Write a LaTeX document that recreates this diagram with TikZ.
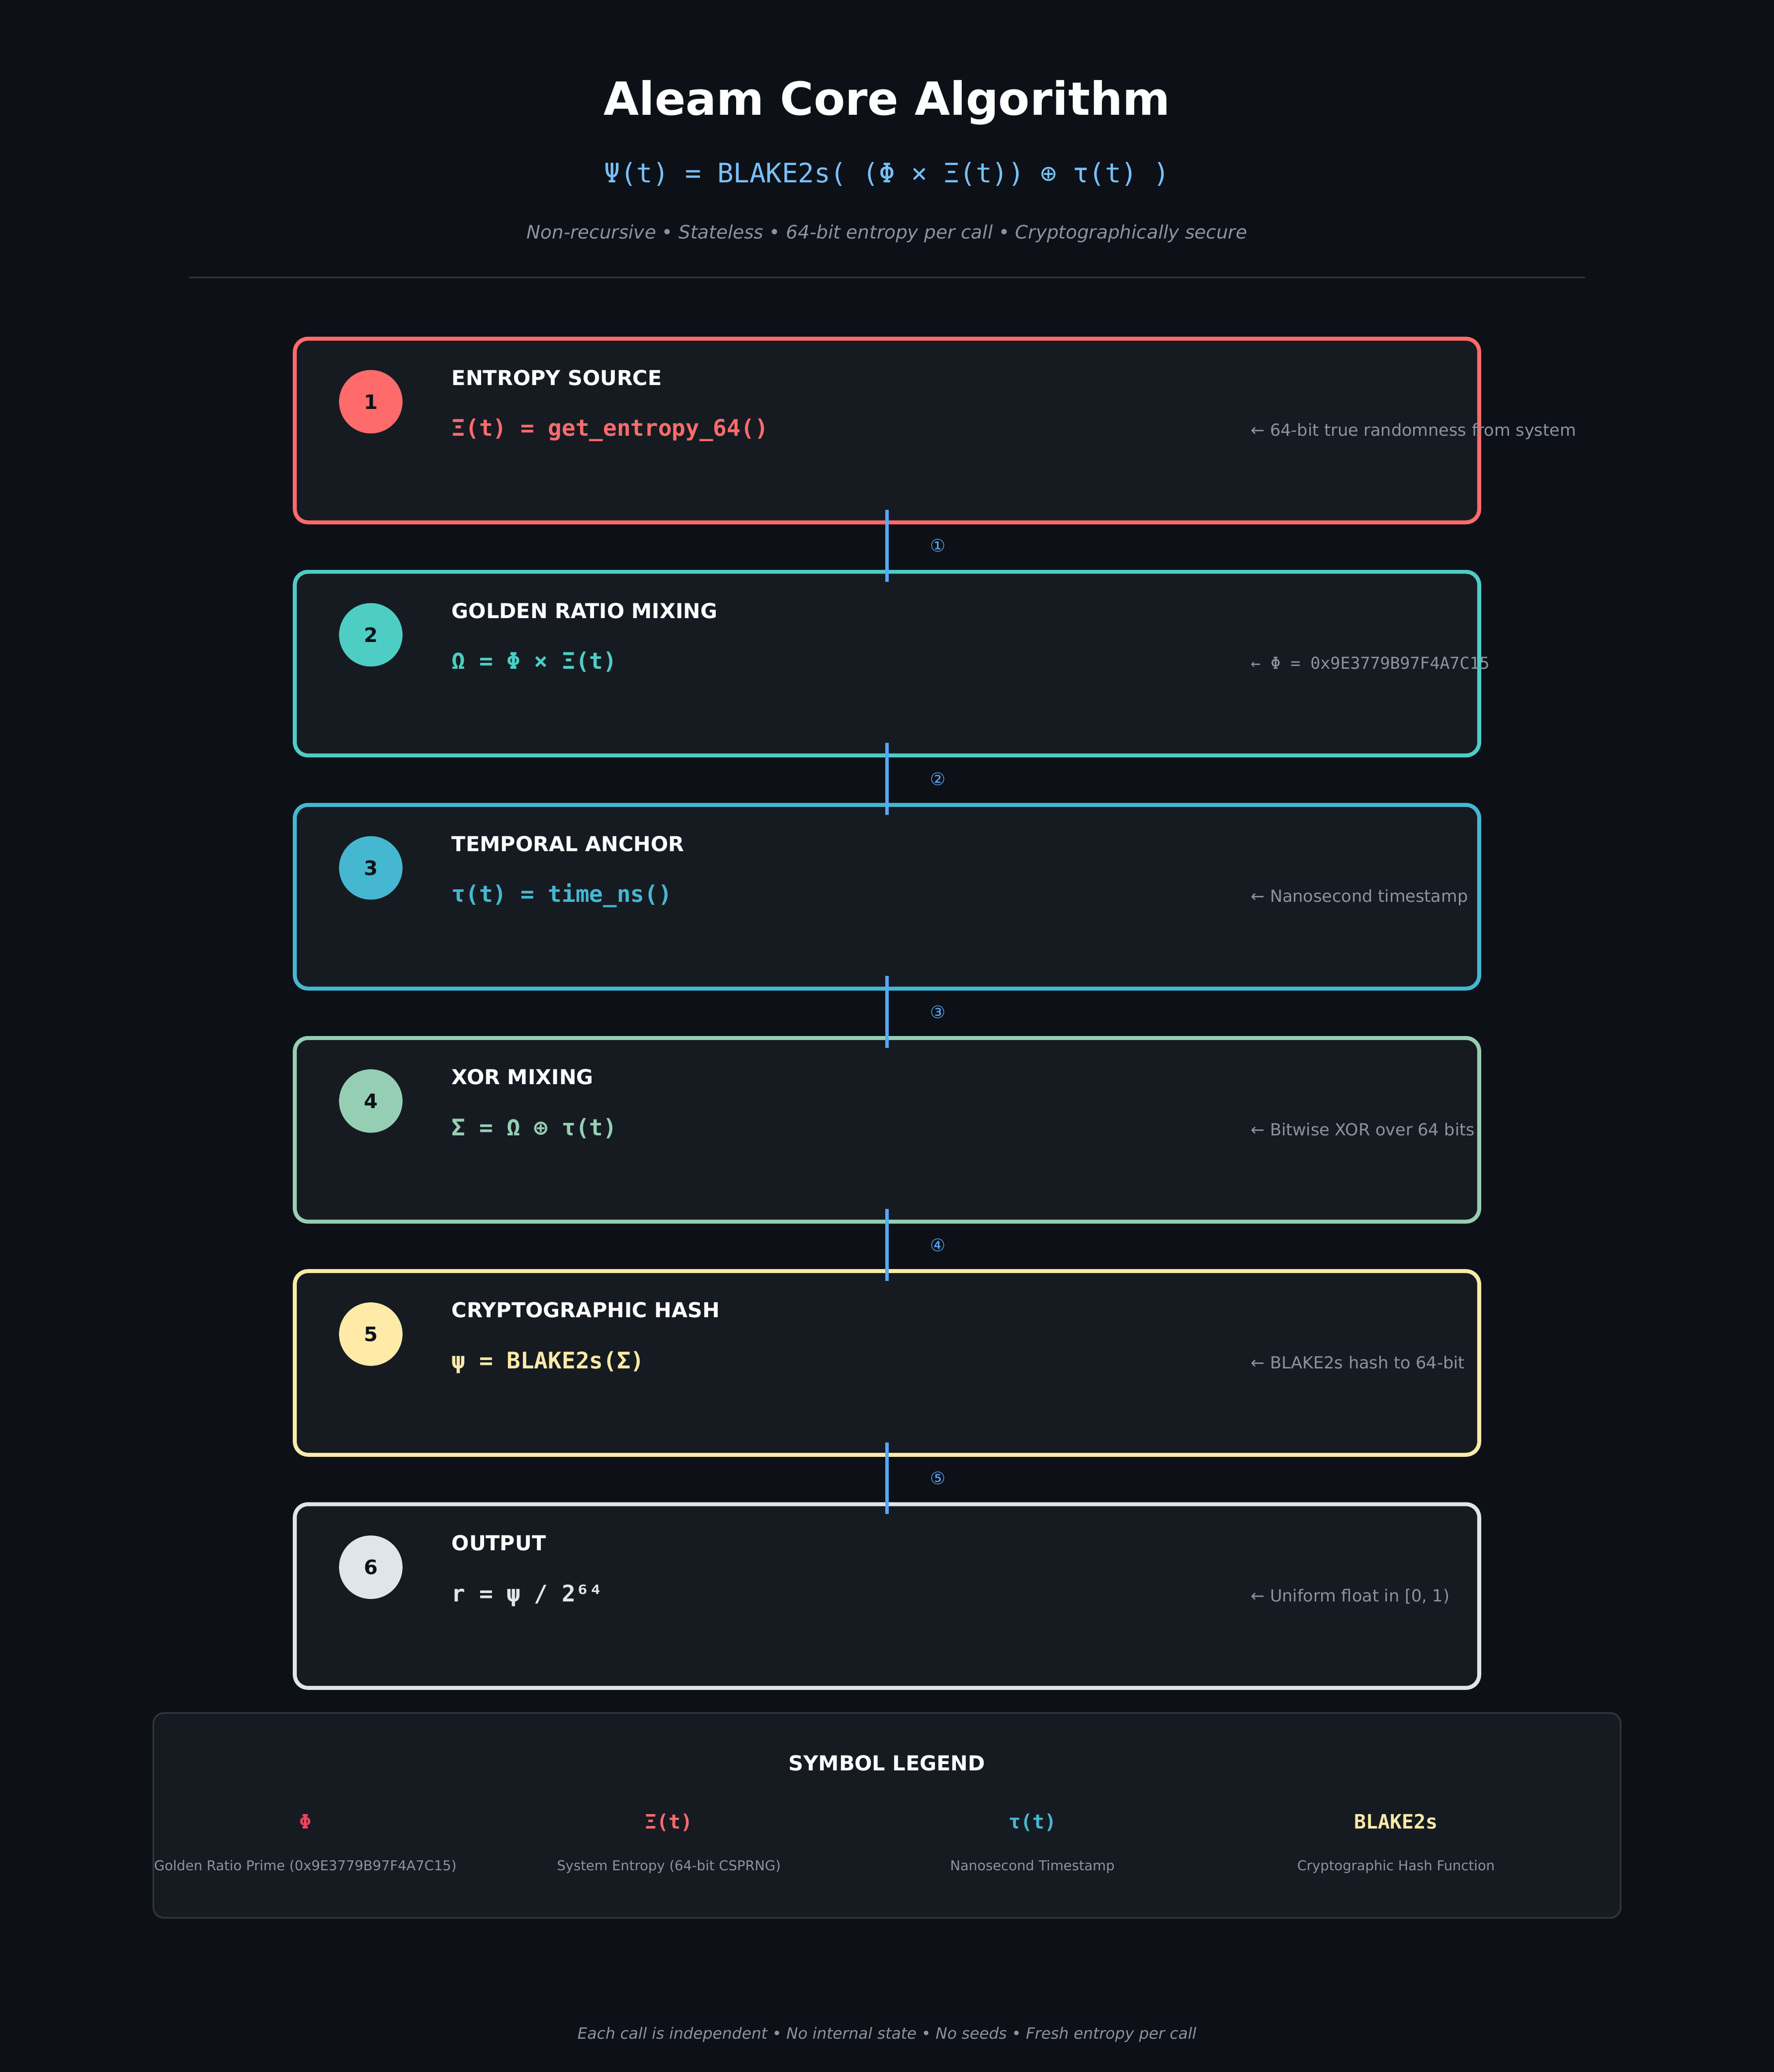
\documentclass[tikz,border=0pt]{standalone}
\usepackage{fontspec}
\setmainfont{DejaVu Sans}
\setmonofont{DejaVu Sans Mono}
\usepackage{tikz}
\usetikzlibrary{calc}
\def\fsz#1{\fontsize{#1}{#1}\selectfont}

\definecolor{bgdark}{HTML}{0D1117}
\definecolor{panel}{HTML}{161B22}
\definecolor{rulegray}{HTML}{30363D}
\definecolor{mutedgray}{HTML}{8B949E}
\definecolor{headblue}{HTML}{79C0FF}
\definecolor{linkblue}{HTML}{58A6FF}
\definecolor{stepA}{HTML}{FF6B6B}
\definecolor{stepB}{HTML}{4ECDC4}
\definecolor{stepC}{HTML}{45B7D1}
\definecolor{stepD}{HTML}{96CEB4}
\definecolor{stepE}{HTML}{FFEAA7}
\definecolor{stepF}{HTML}{DFE6E9}
\definecolor{phipink}{HTML}{E94560}

\begin{document}
\begin{tikzpicture}[x=1pt, y=-1pt,
	stepbox/.style={draw, fill=panel, line width=3pt, rounded corners=10pt, minimum width=896pt, minimum height=139pt, inner sep=0pt},
	numdot/.style={circle, minimum size=48pt, inner sep=0pt, text=bgdark, font=\fsz{15}\bfseries},
	steptitle/.style={anchor=base west, inner sep=0pt, text=white, font=\fsz{15.6}\bfseries},
	stepcode/.style={anchor=base west, inner sep=0pt, font=\fsz{17.3}\ttfamily\bfseries},
	stepnote/.style={anchor=base west, inner sep=0pt, text=mutedgray, font=\fsz{12.6}},
	link/.style={draw=linkblue, line width=2.5pt},
	linklabel/.style={text=linkblue, inner sep=0pt, font=\fsz{13}},
	legsym/.style={anchor=base, inner sep=0pt, font=\fsz{15}\ttfamily\bfseries},
	legtext/.style={anchor=base, inner sep=0pt, text=mutedgray, font=\fsz{10.3}}]
			%%%%% START %%%%%
			
			\fill[bgdark] (0, 0) rectangle (1342, 1568);
			
			\node[anchor=base, inner sep=0pt, text=white, font=\fsz{34.6}\bfseries] (head) at (671, 87.2) {Aleam Core Algorithm};
			\node[anchor=base, inner sep=0pt, text=headblue, font=\fsz{20.3}\ttfamily] (formula) at (671, 138) {Ψ(t) = BLAKE2s( (Φ × Ξ(t)) ⊕ τ(t) )};
			\node[anchor=base, inner sep=0pt, text=mutedgray, font=\fsz{14}\itshape] (tagline) at (671, 180.5) {Non-recursive • Stateless • 64-bit entropy per call • Cryptographically secure};
			\draw[rulegray, line width=1pt] (143, 210) -- (1199, 210);
			
			\node[stepbox, draw=stepA] (box1) at (671, 325.8) {};
			\node[numdot, fill=stepA] (num1) at (280.5, 304) {1};
			\node[steptitle] (title1) at (341.5, 291.5) {ENTROPY SOURCE};
			\node[stepcode, text=stepA] (code1) at (341.5, 330) {Ξ(t) = get\_entropy\_64()};
			\node[stepnote] (note1) at (946, 330) {← 64-bit true randomness from system};
			
			\node[stepbox, draw=stepB] (box2) at (671, 502.2) {};
			\node[numdot, fill=stepB] (num2) at (280.5, 480.4) {2};
			\node[steptitle] (title2) at (341.5, 467.9) {GOLDEN RATIO MIXING};
			\node[stepcode, text=stepB] (code2) at (341.5, 506.4) {Ω = Φ × Ξ(t)};
			\node[stepnote, font=\fsz{12.5}\ttfamily] (note2) at (946, 506.4) {← Φ = 0x9E3779B97F4A7C15};
			
			\node[stepbox, draw=stepC] (box3) at (671, 678.6) {};
			\node[numdot, fill=stepC] (num3) at (280.5, 656.8) {3};
			\node[steptitle] (title3) at (341.5, 644.3) {TEMPORAL ANCHOR};
			\node[stepcode, text=stepC] (code3) at (341.5, 682.8) {τ(t) = time\_ns()};
			\node[stepnote] (note3) at (946, 682.8) {← Nanosecond timestamp};
			
			\node[stepbox, draw=stepD] (box4) at (671, 855) {};
			\node[numdot, fill=stepD] (num4) at (280.5, 833.2) {4};
			\node[steptitle] (title4) at (341.5, 820.7) {XOR MIXING};
			\node[stepcode, text=stepD] (code4) at (341.5, 859.2) {Σ = Ω ⊕ τ(t)};
			\node[stepnote] (note4) at (946, 859.2) {← Bitwise XOR over 64 bits};
			
			\node[stepbox, draw=stepE] (box5) at (671, 1031.4) {};
			\node[numdot, fill=stepE] (num5) at (280.5, 1009.6) {5};
			\node[steptitle] (title5) at (341.5, 997.1) {CRYPTOGRAPHIC HASH};
			\node[stepcode, text=stepE] (code5) at (341.5, 1035.6) {ψ = BLAKE2s(Σ)};
			\node[stepnote] (note5) at (946, 1035.6) {← BLAKE2s hash to 64-bit};
			
			\node[stepbox, draw=stepF] (box6) at (671, 1207.8) {};
			\node[numdot, fill=stepF] (num6) at (280.5, 1186) {6};
			\node[steptitle] (title6) at (341.5, 1173.5) {OUTPUT};
			\node[stepcode, text=stepF] (code6) at (341.5, 1212) {r = ψ / 2⁶⁴};
			\node[stepnote] (note6) at (946, 1212) {← Uniform float in [0, 1)};
			
			\draw[link] ([yshift=11pt]box1.south) -- ([yshift=-9pt]box2.north) node[midway, linklabel, xshift=38.5pt] (lab1) {①};
			\draw[link] ([yshift=11pt]box2.south) -- ([yshift=-9pt]box3.north) node[midway, linklabel, xshift=38.5pt] (lab2) {②};
			\draw[link] ([yshift=11pt]box3.south) -- ([yshift=-9pt]box4.north) node[midway, linklabel, xshift=38.5pt] (lab3) {③};
			\draw[link] ([yshift=11pt]box4.south) -- ([yshift=-9pt]box5.north) node[midway, linklabel, xshift=38.5pt] (lab4) {④};
			\draw[link] ([yshift=11pt]box5.south) -- ([yshift=-9pt]box6.north) node[midway, linklabel, xshift=38.5pt] (lab5) {⑤};
			
			\node[draw=rulegray, fill=panel, line width=1.25pt, rounded corners=8pt, minimum width=1110pt, minimum height=155pt, inner sep=0pt] (legend) at (671, 1373.8) {};
			\node[anchor=base, inner sep=0pt, text=white, font=\fsz{15.6}\bfseries] (legtitle) at (671, 1340) {SYMBOL LEGEND};
			
			\node[legsym, text=phipink] (sym1) at (231, 1384) {Φ};
			\node[legtext] (desc1) at (231, 1415.5) {Golden Ratio Prime (0x9E3779B97F4A7C15)};
			\node[legsym, text=stepA] (sym2) at (506, 1384) {Ξ(t)};
			\node[legtext] (desc2) at (506, 1415.5) {System Entropy (64-bit CSPRNG)};
			\node[legsym, text=stepC] (sym3) at (781, 1384) {τ(t)};
			\node[legtext] (desc3) at (781, 1415.5) {Nanosecond Timestamp};
			\node[legsym, text=stepE] (sym4) at (1056, 1384) {BLAKE2s};
			\node[legtext] (desc4) at (1056, 1415.5) {Cryptographic Hash Function};
			
			\node[anchor=base, inner sep=0pt, text=mutedgray, font=\fsz{11.75}\itshape] (footer) at (671, 1543) {Each call is independent • No internal state • No seeds • Fresh entropy per call};
			
			%%%%% END %%%%%
		\end{tikzpicture}
\end{document}
